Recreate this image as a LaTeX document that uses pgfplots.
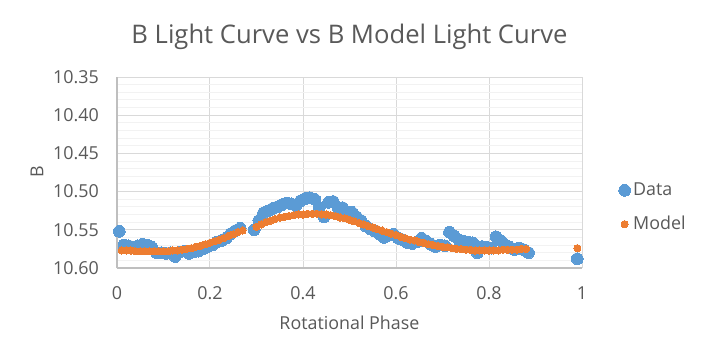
\documentclass[border=0pt]{standalone}
\usepackage{pgfplots}
\pgfplotsset{compat=1.18}
\usepackage{fontspec}
\setmainfont{Open Sans}
\definecolor{xblue}{HTML}{5B9BD5}
\definecolor{xorange}{HTML}{ED7D31}
\definecolor{txt}{HTML}{595959}
\definecolor{gmaj}{HTML}{D9D9D9}
\definecolor{gmin}{HTML}{F2F2F2}
\definecolor{axl}{HTML}{BFBFBF}
\begin{document}
\begin{tikzpicture}
\fill[white] (0,0) rectangle (528pt,270.75pt);
\begin{axis}[
  at={(87.75pt,69.75pt)}, anchor=south west,
  scale only axis, width=348.75pt, height=143.25pt,
  xmin=0, xmax=1, ymin=10.35, ymax=10.60,
  y dir=reverse,
  clip=false,
  xtick={0,0.2,0.4,0.6,0.8,1},
  xticklabels={0,0.2,0.4,0.6,0.8,1},
  ytick={10.35,10.40,10.45,10.50,10.55,10.60},
  yticklabels={10.35,10.40,10.45,10.50,10.55,10.60},
  minor y tick num=4,
  xmajorgrids, ymajorgrids, yminorgrids,
  major grid style={draw=gmaj, line width=0.75pt},
  minor grid style={draw=gmin, line width=0.75pt},
  major tick length=0pt, minor tick length=0pt,
  axis line style={draw=none},
  tick label style={font=\fontsize{13.4}{16}\selectfont, text=txt},
  yticklabel style={anchor=east, inner sep=0pt, xshift=-13.5pt},
  xticklabel style={anchor=center, inner sep=0pt, yshift=-18.5pt},
  legend style={at={(axis description cs:1.07,0.317)}, anchor=west,
    draw=none, fill=none, font=\fontsize{13.4}{16}\selectfont, text=txt,
    row sep=10pt, cells={anchor=west}},
  legend image code/.code={\path[#1, only marks] plot coordinates {(0pt,0pt)};},
]
\draw[axl, line width=1pt] (axis description cs:0,0) -- (axis description cs:0,1);
\draw[axl, line width=1pt] (axis description cs:0,0) -- (axis description cs:1,0);
\addplot[xblue, only marks, mark=*, mark size=4.4pt, mark options={draw=xblue, fill=xblue, line width=0pt}] coordinates {
(0.005,10.552) (0.015,10.570) (0.025,10.571) (0.035,10.574) (0.045,10.571)
(0.055,10.569) (0.065,10.570) (0.075,10.573) (0.085,10.580) (0.095,10.580)
(0.105,10.581) (0.115,10.580) (0.125,10.585) (0.135,10.579) (0.145,10.578)
(0.155,10.581) (0.165,10.579) (0.175,10.578) (0.185,10.575) (0.195,10.572)
(0.205,10.570) (0.215,10.566) (0.225,10.564) (0.235,10.561) (0.245,10.555)
(0.255,10.551) (0.265,10.548) (0.295,10.550) (0.305,10.538) (0.315,10.528)
(0.325,10.525) (0.335,10.522) (0.345,10.520) (0.355,10.517) (0.365,10.515)
(0.375,10.516) (0.385,10.518) (0.395,10.512) (0.405,10.509) (0.415,10.508)
(0.425,10.510) (0.435,10.521) (0.445,10.533) (0.455,10.514) (0.465,10.513)
(0.475,10.521) (0.485,10.521) (0.495,10.527) (0.505,10.527) (0.515,10.533)
(0.525,10.538) (0.535,10.545) (0.545,10.549) (0.555,10.552) (0.565,10.556)
(0.575,10.560) (0.585,10.557) (0.595,10.556) (0.605,10.561) (0.615,10.563)
(0.625,10.567) (0.635,10.568) (0.645,10.566) (0.655,10.561) (0.665,10.565)
(0.675,10.569) (0.685,10.572) (0.695,10.570) (0.705,10.571) (0.715,10.553)
(0.725,10.558) (0.735,10.563) (0.745,10.565) (0.755,10.566) (0.765,10.567)
(0.775,10.580) (0.785,10.572) (0.795,10.573) (0.805,10.574) (0.815,10.559)
(0.825,10.564) (0.835,10.570) (0.845,10.573) (0.855,10.576) (0.865,10.574)
(0.875,10.576) (0.885,10.580) (0.99,10.588)
};
\addlegendentry{Data}
\addplot[xorange, only marks, mark=*, mark size=2.7pt, mark options={draw=xorange, fill=xorange, line width=0pt}] coordinates {
(0.01,10.577) (0.02,10.577) (0.03,10.577) (0.04,10.578) (0.05,10.578)
(0.06,10.578) (0.07,10.578) (0.08,10.578) (0.09,10.578) (0.10,10.578)
(0.11,10.578) (0.12,10.577) (0.13,10.577) (0.14,10.576) (0.15,10.575)
(0.16,10.574) (0.17,10.572) (0.18,10.571) (0.19,10.569) (0.20,10.567)
(0.21,10.565) (0.22,10.563) (0.23,10.561) (0.24,10.558) (0.25,10.556)
(0.26,10.553) (0.27,10.551) (0.30,10.546) (0.31,10.543) (0.32,10.540)
(0.33,10.538) (0.34,10.536) (0.35,10.534) (0.36,10.533) (0.37,10.532)
(0.38,10.531) (0.39,10.530) (0.40,10.530) (0.41,10.529) (0.42,10.529)
(0.43,10.529) (0.44,10.530) (0.45,10.530) (0.46,10.531) (0.47,10.532)
(0.48,10.534) (0.49,10.535) (0.50,10.537) (0.51,10.539) (0.52,10.541)
(0.53,10.543) (0.54,10.545) (0.55,10.547) (0.56,10.549) (0.57,10.551)
(0.58,10.553) (0.59,10.555) (0.60,10.557) (0.61,10.559) (0.62,10.561)
(0.63,10.563) (0.64,10.564) (0.65,10.566) (0.66,10.567) (0.67,10.569)
(0.68,10.570) (0.69,10.571) (0.70,10.572) (0.71,10.573) (0.72,10.574)
(0.73,10.575) (0.74,10.575) (0.75,10.576) (0.76,10.576) (0.77,10.577)
(0.78,10.577) (0.79,10.577) (0.80,10.577) (0.81,10.577) (0.82,10.577)
(0.83,10.576) (0.84,10.576) (0.85,10.576) (0.86,10.576) (0.87,10.575)
(0.88,10.575) (0.99,10.574)
};
\addlegendentry{Model}
\end{axis}
\node[text=txt, font=\fontsize{19.2}{23}\selectfont] at (262.1pt,243pt) {B Light Curve vs B Model Light Curve};
\node[text=txt, font=\fontsize{13.4}{16}\selectfont, rotate=90] at (27.75pt,141.75pt) {B};
\node[text=txt, font=\fontsize{13.4}{16}\selectfont] at (262.1pt,28.5pt) {Rotational Phase};
\end{tikzpicture}
\end{document}
